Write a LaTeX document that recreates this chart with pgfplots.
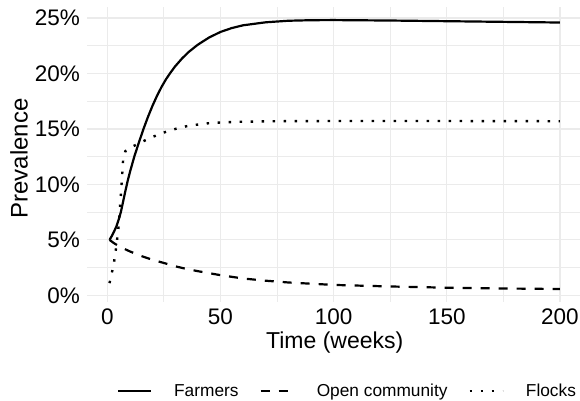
\documentclass[border=0pt]{standalone}
\usepackage{fontspec}
\setmainfont{Liberation Sans}
\usepackage{pgfplots}
\pgfplotsset{compat=1.18}
\definecolor{gridc}{HTML}{EBEBEB}
\begin{document}
\begin{tikzpicture}
\begin{axis}[
  scale only axis, width=495.5bp, height=295bp,
  xmin=-8.95, xmax=209.95, ymin=-0.6, ymax=26.0,
  axis line style={draw=none},
  tick style={draw=none},
  /pgf/number format/assume math mode=true,
  xtick={0,50,100,150,200}, minor xtick={25,75,125,175},
  ytick={0,5,10,15,20,25}, minor ytick={2.5,7.5,12.5,17.5,22.5},
  yticklabels={0\%,5\%,10\%,15\%,20\%,25\%},
  grid=both,
  major grid style={gridc, line width=1.2bp},
  minor grid style={gridc, line width=0.7bp},
  xticklabel style={font=\fontsize{22.5bp}{27bp}\selectfont, inner sep=0pt, yshift=-7bp},
  yticklabel style={font=\fontsize{22.5bp}{27bp}\selectfont, inner sep=0pt, xshift=-7bp},
  xlabel={Time (weeks)},
  xlabel style={at={(axis description cs:0.5,-0.1017)}, anchor=north, inner sep=0pt, font=\fontsize{23bp}{27bp}\selectfont},
  ylabel={Prevalence},
  ylabel style={at={(axis description cs:-0.1554,0.487)}, anchor=north, inner sep=0pt, font=\fontsize{24bp}{28bp}\selectfont},
  legend columns=3,
  legend style={draw=none, fill=none, at={(axis description cs:0.0605,-0.3017)}, anchor=west,
    inner sep=0pt, outer sep=0pt, font=\fontsize{17.3bp}{20bp}\selectfont,
    nodes={inner sep=0pt},
    /tikz/every odd column/.append style={column sep=22bp},
    /tikz/every even column/.append style={column sep=21bp}},
  legend image code/.code={\draw[#1] (0bp,0bp) -- (33bp,0bp);},
]
\addplot[black, line width=2.2bp, line join=round] coordinates {
(1,5.0) (2,5.35) (3,5.75) (4,6.2) (5,6.8) (6,7.5) (7,8.45) (8,9.4) (9,10.3) (10,11.1)
(12,12.55) (14,13.8) (16,15.0) (18,16.1) (20,17.1) (22,18.0) (24,18.8) (26,19.5)
(28,20.1) (30,20.65) (33,21.35) (36,21.95) (40,22.6) (45,23.25) (50,23.75) (55,24.1)
(60,24.35) (70,24.62) (80,24.76) (90,24.81) (100,24.82) (125,24.78) (150,24.72)
(175,24.66) (200,24.6)
};
\addlegendentry{Farmers}
\addplot[black, line width=2.2bp, dash pattern=on 9bp off 9bp] coordinates {
(1,5.0) (3,4.7) (5,4.45) (8,4.15) (10,3.96) (15,3.55) (20,3.2) (25,2.92) (30,2.62)
(35,2.38) (40,2.18) (50,1.82) (60,1.52) (70,1.32) (80,1.16) (100,0.94) (125,0.8)
(150,0.69) (175,0.62) (200,0.57)
};
\addlegendentry{Open community}
\addplot[black, line width=2.4bp, dash pattern=on 2.4bp off 8.6bp] coordinates {
(1,1.1) (2,2.0) (3,3.0) (4,4.4) (5,6.2) (6,9.0) (7,12.2) (8,13.0) (10,13.3) (12,13.5)
(15,13.8) (18,14.1) (22,14.45) (26,14.75) (30,15.0) (35,15.25) (40,15.4) (46,15.55)
(58,15.65) (75,15.7) (100,15.72) (150,15.72) (200,15.7)
};
\addlegendentry{Flocks}
\end{axis}
\pgfresetboundingbox
\path (-87bp,-99bp) rectangle (493bp,302bp);
\end{tikzpicture}
\end{document}
